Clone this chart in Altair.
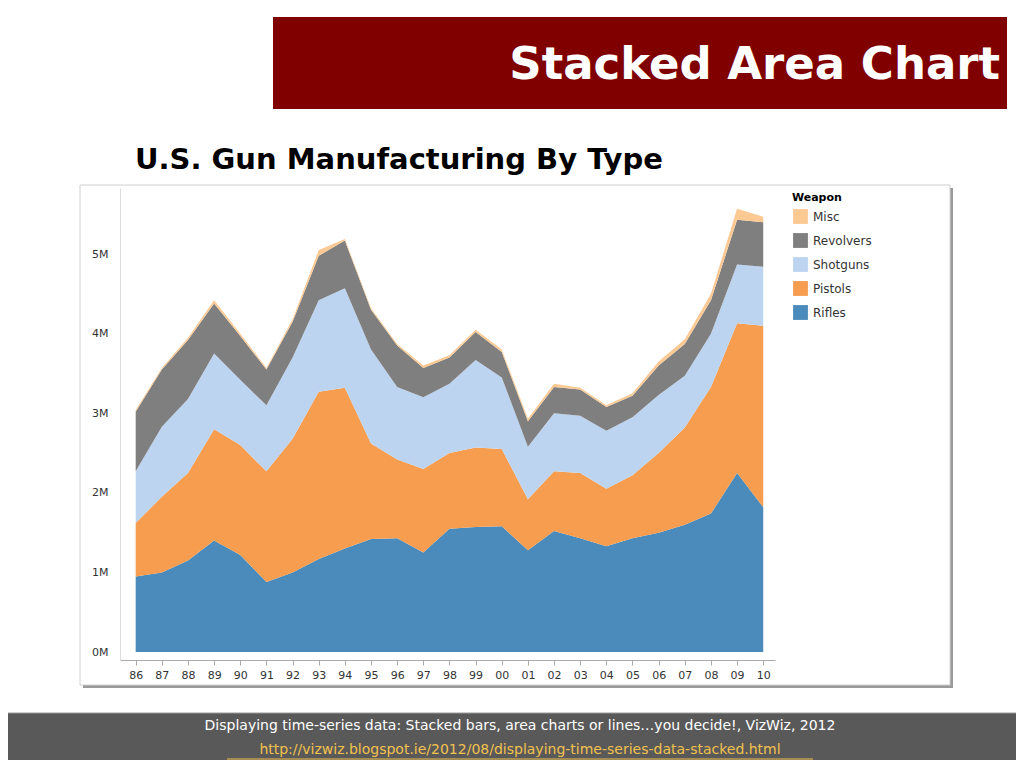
import altair as alt
import pandas as pd

years = list(range(1986, 2011))
# cumulative stack tops (millions)
rifles_top = [0.95, 1.0, 1.15, 1.4, 1.22, 0.88, 1.0, 1.17, 1.3, 1.42, 1.43, 1.25, 1.55,
              1.57, 1.58, 1.28, 1.52, 1.43, 1.33, 1.43, 1.5, 1.6, 1.74, 2.25, 1.82]
pistols_top = [1.62, 1.95, 2.25, 2.8, 2.6, 2.27, 2.68, 3.27, 3.32, 2.62, 2.42, 2.3, 2.5,
               2.57, 2.55, 1.92, 2.27, 2.25, 2.05, 2.22, 2.5, 2.82, 3.33, 4.13, 4.1]
shotguns_top = [2.27, 2.83, 3.18, 3.75, 3.42, 3.1, 3.7, 4.42, 4.57, 3.8, 3.33, 3.2, 3.37,
                3.67, 3.45, 2.58, 3.0, 2.97, 2.78, 2.95, 3.23, 3.47, 4.0, 4.87, 4.84]
revolvers_top = [3.02, 3.55, 3.92, 4.38, 3.97, 3.55, 4.15, 4.98, 5.17, 4.3, 3.85, 3.57, 3.7,
                 4.02, 3.77, 2.9, 3.33, 3.3, 3.08, 3.22, 3.6, 3.87, 4.42, 5.43, 5.4]
misc_top = [3.04, 3.57, 3.95, 4.42, 4.0, 3.57, 4.18, 5.05, 5.19, 4.32, 3.87, 3.6, 3.73,
            4.05, 3.8, 2.93, 3.37, 3.32, 3.1, 3.25, 3.65, 3.93, 4.5, 5.57, 5.47]

weapons = ["Rifles", "Pistols", "Shotguns", "Revolvers", "Misc"]
colors = ["#4a8bbb", "#f69d4f", "#bdd4f1", "#7f7f7f", "#fdc993"]
tops = [rifles_top, pistols_top, shotguns_top, revolvers_top, misc_top]

rows = []
for i, (w, t) in enumerate(zip(weapons, tops)):
    below = tops[i - 1] if i > 0 else [0] * len(years)
    for y, hi, lo in zip(years, t, below):
        rows.append({"year": y, "weapon": w, "order": i, "value": (hi - lo) * 1e6})
df = pd.DataFrame(rows)

W, H = 655, 472
one = pd.DataFrame({"a": [0]})


def box(x, x2, y, y2, color, **kw):
    return alt.Chart(one).mark_rect(color=color, **kw).encode(
        x=alt.value(x), x2=alt.value(x2), y=alt.value(y), y2=alt.value(y2))


def label(text, x, y, **kw):
    return alt.Chart(one).mark_text(text=text, **kw).encode(x=alt.value(x), y=alt.value(y))


shadow = box(-37, 833, 0, 500, "#9a9a9a")
panel = box(-40, 830, -3, 497, "white", stroke="#d0d0d0")
title_box = box(153, 887, -171, -79, "#800000")
title = label("Stacked Area Chart", 880, -123, align="right", baseline="middle",
              font="DejaVu Sans", fontSize=45, fontWeight="bold", color="white")
subtitle = label("U.S. Gun Manufacturing By Type", 15, -28, align="left", baseline="middle",
                 font="DejaVu Sans", fontSize=29, fontWeight="bold", color="black")
footer = box(-120, 904, 525, 580, "#595959", stroke="#9a9a9a")
foot1 = label("Displaying time-series data: Stacked bars, area charts or lines…you decide!, VizWiz, 2012",
              400, 538, align="center", baseline="middle", font="DejaVu Sans", fontSize=14, color="white")
foot2 = label("http://vizwiz.blogspot.ie/2012/08/displaying-time-series-data-stacked.html",
              400, 562, align="center", baseline="middle", font="DejaVu Sans", fontSize=14, color="#f2c14e")
underline = alt.Chart(one).mark_rule(color="#f2c14e").encode(
    x=alt.value(107), x2=alt.value(693), y=alt.value(571))

area = alt.Chart(df).mark_area(opacity=1).encode(
    x=alt.X("year:Q", title=None, scale=alt.Scale(domain=[1985.4, 2010.45], nice=False),
            axis=alt.Axis(values=years, labelExpr="slice(toString(datum.value), 2)",
                          grid=False, domainColor="#aaa", tickColor="#aaa", zindex=1,
                          labelFontSize=11, labelColor="#333", labelPadding=4)),
    y=alt.Y("value:Q", stack="zero", title=None,
            scale=alt.Scale(domain=[-0.1e6, 5.83e6], nice=False),
            axis=alt.Axis(values=[0, 1e6, 2e6, 3e6, 4e6, 5e6], zindex=1,
                          labelExpr="(datum.value / 1e6) + 'M'", grid=False,
                          domainColor="#ddd", ticks=False, labelFontSize=11,
                          labelColor="#333", labelPadding=12)),
    color=alt.Color("weapon:N",
                    scale=alt.Scale(domain=weapons, range=colors),
                    legend=alt.Legend(title="Weapon", orient="none", legendX=672, legendY=4,
                                      values=weapons[::-1], symbolType="square",
                                      symbolSize=220, symbolOpacity=1, labelFontSize=12,
                                      rowPadding=8, titleFontSize=11, labelColor="#333",
                                      zindex=1)),
    order=alt.Order("order:Q"),
)

chart = alt.layer(shadow, panel, title_box, title, subtitle, footer, foot1, foot2,
                  underline, area).properties(
    width=W, height=H,
    autosize=alt.AutoSizeParams(type="none"),
    padding={"left": 112, "top": 180, "right": 241, "bottom": 100},
).configure_view(stroke=None).configure(font="DejaVu Sans", background="white")

chart.save("out.html", embed_options={"renderer": "svg", "actions": False})
